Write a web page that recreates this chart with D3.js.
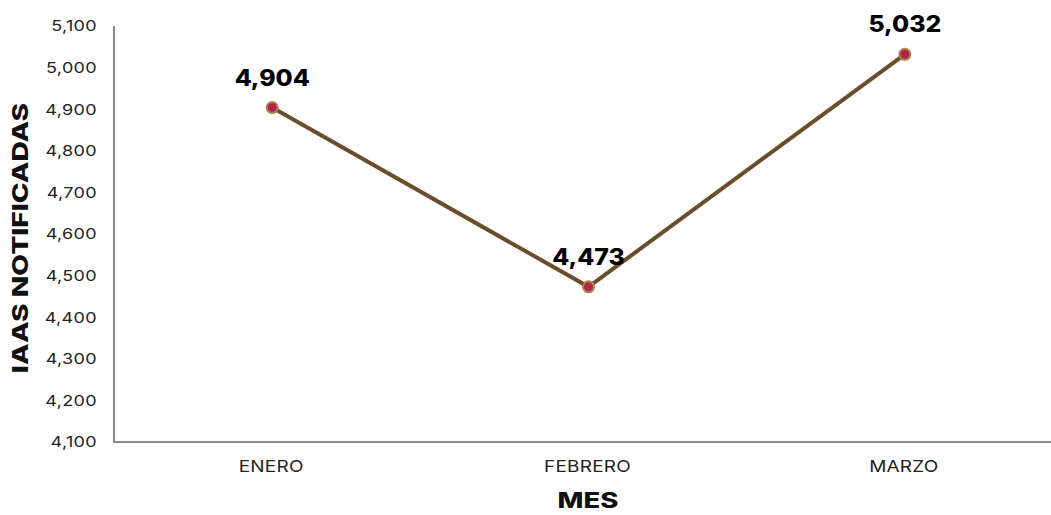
<!DOCTYPE html>
<html><head><meta charset="utf-8">
<script src="https://cdn.jsdelivr.net/npm/d3@7"></script>
<style>body{margin:0;background:#fff}svg{display:block}text{font-family:"Inter","Open Sans",sans-serif}</style>
</head><body>
<svg id="c" width="1051" height="515"></svg>
<script>
const months = ["ENERO", "FEBRERO", "MARZO"];
const values = [4904, 4473, 5032];
const yTicks = [4100, 4200, 4300, 4400, 4500, 4600, 4700, 4800, 4900, 5000, 5100];

const svg = d3.select("#c");
const x = d3.scaleBand().domain(months).range([114, 1063]);
const y = d3.scaleLinear().domain([4100, 5100]).range([442, 26]);
const fmt = d3.format(",");

// y labels (widened glyphs to mimic the wide original typeface)
svg.append("g").selectAll("text").data(yTicks).join("text")
  .attr("transform", d => `translate(97,${y(d)}) scale(1.2,1)`).attr("dy", "0.36em")
  .attr("text-anchor", "end").attr("font-size", 15).attr("letter-spacing", 0.3).attr("fill", "#222")
  .text(d => fmt(d));

// axes lines
svg.append("line").attr("x1", 114).attr("x2", 114).attr("y1", y(5100)).attr("y2", y(4100)+1)
  .attr("stroke", "#8a8a8a").attr("stroke-width", 2);
svg.append("line").attr("x1", 113).attr("x2", 1051).attr("y1", y(4100)).attr("y2", y(4100))
  .attr("stroke", "#8a8a8a").attr("stroke-width", 2);

// x labels
svg.append("g").selectAll("text").data(months).join("text")
  .attr("transform", d => `translate(${x(d) + x.bandwidth()/2 - 1},472) scale(1.15,1)`)
  .attr("text-anchor", "middle").attr("font-size", 16.5).attr("letter-spacing", 0.2).attr("fill", "#222")
  .text(d => d);

// titles
svg.append("text").attr("transform", "translate(588,508) scale(1.28,1)").attr("text-anchor", "middle")
  .attr("font-size", 21.5).attr("font-weight", 800).attr("fill", "#111").text("MES");
svg.append("text").attr("transform", "translate(28,238) rotate(-90) scale(1.28,1)").attr("text-anchor", "middle")
  .attr("font-size", 22).attr("font-weight", 800).attr("fill", "#111").text("IAAS NOTIFICADAS");

const pts = months.map((m, i) => ({m, v: values[i]}));
const line = d3.line().x(d => x(d.m) + x.bandwidth()/2).y(d => y(d.v));
svg.append("path").datum(pts).attr("d", line).attr("fill", "none")
  .attr("stroke", "#6b4d2c").attr("stroke-width", 4).attr("stroke-linejoin", "miter");

svg.append("g").selectAll("circle").data(pts).join("circle")
  .attr("cx", d => x(d.m) + x.bandwidth()/2).attr("cy", d => y(d.v)).attr("r", 5.5)
  .attr("fill", "#b0244c").attr("stroke", "#a88544").attr("stroke-width", 2);

svg.append("g").selectAll("text").data(pts).join("text")
  .attr("transform", d => `translate(${x(d.m) + x.bandwidth()/2},${y(d.v) - 22}) scale(1.1,1)`)
  .attr("text-anchor", "middle").attr("font-size", 22.5).attr("font-weight", 800).attr("fill", "#000")
  .text(d => fmt(d.v));
</script>
</body></html>
